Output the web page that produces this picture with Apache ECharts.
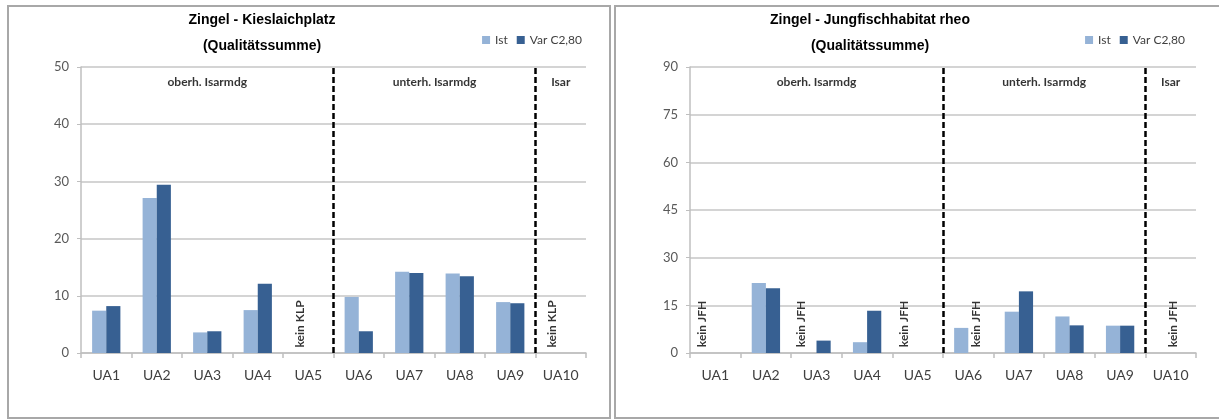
<!DOCTYPE html>
<html>
<head>
<meta charset="utf-8">
<script src="https://cdn.jsdelivr.net/npm/echarts@6/dist/echarts.min.js"></script>
<style>
  html, body { margin: 0; padding: 0; background: #fff; overflow: hidden; }
  body { width: 1219px; height: 419px; position: relative; }
  .panel { position: absolute; top: 5px; height: 410px; border: 2px solid #a8a8a8; }
  #klp { left: 7px; width: 600px; }
  #jfh { left: 614px; width: 608px; }
</style>
</head>
<body>
<div id="klp" class="panel"></div>
<div id="jfh" class="panel"></div>
<script>
// Untersuchungsabschnitte
const categories = ['UA1', 'UA2', 'UA3', 'UA4', 'UA5', 'UA6', 'UA7', 'UA8', 'UA9', 'UA10'];
const sections = ['oberh. Isarmdg', 'unterh. Isarmdg', 'Isar'];
const dividers = [5, 9]; // Abschnittsgrenzen (nach UA5 und UA9)

// Kieslaichplatz
const klpIst = [7.4, 27.1, 3.6, 7.5, null, 9.8, 14.2, 13.9, 8.9, null];
const klpVar = [8.2, 29.4, 3.8, 12.1, null, 3.8, 14.0, 13.4, 8.7, null];
const klpTicks = [0, 10, 20, 30, 40, 50];
const klpNotes = ['UA5', 'UA10'];

// Jungfischhabitat rheo
const jfhIst = [null, 22.0, null, 3.4, null, 7.9, 13.0, 11.5, 8.6, null];
const jfhVar = [null, 20.4, 3.9, 13.3, null, null, 19.4, 8.7, 8.6, null];
const jfhTicks = [0, 15, 30, 45, 60, 75, 90];
const jfhNotes = ['UA1', 'UA3', 'UA5', 'UA6', 'UA10'];

const PLOT_H = 286;

function buildOption(c) {
  const max = c.ticks[c.ticks.length - 1];
  const step = c.ticks[1] - c.ticks[0];
  const secY = max * (1 - 15 / PLOT_H);
  const noteY = max * 29 / PLOT_H;
  const edges = [0].concat(dividers, [categories.length]);
  const secData = sections.map((s, i) => ({ name: s, value: [(edges[i] + edges[i + 1]) / 2, secY] }));
  const noteData = c.notes.map((n, i) => ({
    name: c.noteText,
    value: [categories.indexOf(n) + 0.5 + c.noteShift[i], noteY]
  }));
  const gray = '#bfbfbf';
  const titleFont = 'bold 14px "Liberation Sans", Arial';

  return {
    animation: false,
    textStyle: { fontFamily: 'Lato' },
    graphic: [
      { type: 'text', x: c.titleX, y: 13, style: { text: c.title, x: 0, y: 0, align: 'center', verticalAlign: 'middle',
        font: titleFont, fill: '#000' } },
      { type: 'text', x: c.titleX, y: 39, style: { text: '(Qualitätssumme)', x: 0, y: 0, align: 'center', verticalAlign: 'middle',
        font: titleFont, fill: '#000' } }
    ],
    legend: {
      data: ['Ist', 'Var C2,80'],
      right: c.legendRight,
      top: 22,
      icon: 'rect',
      itemWidth: 8,
      itemHeight: 8,
      itemGap: 9,
      textStyle: { fontSize: 12, color: '#404040', fontFamily: 'Lato' }
    },
    grid: { left: c.left, top: 60, width: c.width, height: PLOT_H },
    xAxis: [
      {
        type: 'category',
        data: categories,
        axisLine: { lineStyle: { color: gray, width: 1.5 } },
        axisTick: { show: true, length: 5, lineStyle: { color: gray, width: 1.5 } },
        axisLabel: { fontSize: 14, color: '#404040', margin: 15 }
      },
      { type: 'value', min: 0, max: categories.length, show: false }
    ],
    yAxis: {
      type: 'value',
      min: c.ticks[0],
      max: max,
      interval: step,
      axisLine: { show: true, lineStyle: { color: gray, width: 1.5 } },
      axisTick: { show: true, length: 4, lineStyle: { color: gray } },
      axisLabel: { fontSize: 13, color: '#595959', margin: 12 },
      splitLine: { lineStyle: { color: '#c6c6c6', width: 1.5 } }
    },
    series: [
      { name: 'Ist', type: 'bar', data: c.ist, barGap: '0%', barCategoryGap: '44%',
        itemStyle: { color: '#95b3d7' } },
      { name: 'Var C2,80', type: 'bar', data: c.var,
        itemStyle: { color: '#376092' } },
      {
        type: 'scatter', xAxisIndex: 1, data: secData, symbolSize: 1, silent: true,
        itemStyle: { color: 'rgba(0,0,0,0)' },
        label: { show: true, position: 'inside', formatter: p => p.name,
          fontWeight: 'bold', fontSize: 12, color: '#000' },
        markLine: {
          silent: true, symbol: ['none', 'none'], label: { show: false },
          lineStyle: { color: '#000', type: [6, 3], width: 2.5 },
          data: dividers.map(d => ({ xAxis: d }))
        }
      },
      {
        type: 'scatter', xAxisIndex: 1, data: noteData, symbolSize: 1, silent: true,
        itemStyle: { color: 'rgba(0,0,0,0)' },
        label: { show: true, position: 'inside', rotate: 90, formatter: p => p.name,
          fontWeight: 'bold', fontSize: 12, color: '#000' }
      }
    ]
  };
}

const klpChart = echarts.init(document.getElementById('klp'));
klpChart.setOption(buildOption({
  title: 'Zingel - Kieslaichplatz', titleX: 253,
  ist: klpIst, var: klpVar, ticks: klpTicks,
  notes: klpNotes, noteText: 'kein KLP', noteShift: [-0.17, -0.17],
  left: 72, width: 505, legendRight: 22
}));

const jfhChart = echarts.init(document.getElementById('jfh'));
jfhChart.setOption(buildOption({
  title: 'Zingel - Jungfischhabitat rheo', titleX: 254,
  ist: jfhIst, var: jfhVar, ticks: jfhTicks,
  notes: jfhNotes, noteText: 'kein JFH', noteShift: [-0.26, -0.3, -0.26, 0.15, 0.05],
  left: 74, width: 506, legendRight: 34
}));
</script>
</body>
</html>
